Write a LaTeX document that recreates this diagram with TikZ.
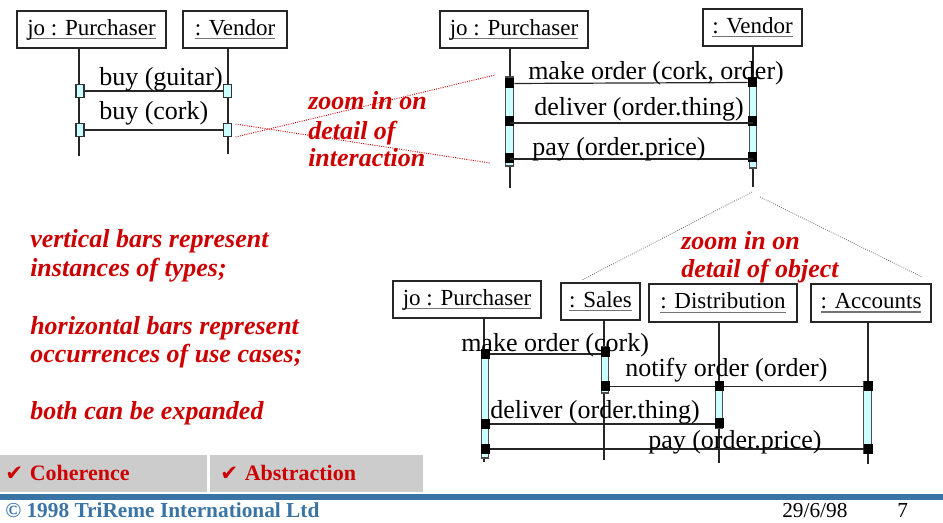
\documentclass[tikz,border=0pt]{standalone}
\usepackage{fontspec}
\setmainfont{Liberation Serif}
\newfontfamily\symfont{DejaVu Sans}
\definecolor{slidered}{RGB}{204,0,0}
\definecolor{slideblue}{RGB}{58,116,164}
\definecolor{bargray}{RGB}{204,204,204}
\definecolor{barcyan}{RGB}{204,255,255}
\newcommand\myul[1]{\setbox0\hbox{#1}\rlap{\color{black!55}\rule[-3pt]{\wd0}{0.9pt}}\box0}
\tikzset{
  objbox/.style={draw=black!85, line width=1pt, fill=white, inner sep=0pt,
    font=\fontsize{17.25}{20}\selectfont},
  lbl/.style={anchor=base west, inner sep=0pt, font=\fontsize{19.5}{22}\selectfont},
  note/.style={anchor=base west, inner sep=0pt, text=slidered,
    font=\fontsize{19.5}{22}\selectfont\bfseries\itshape},
  life/.style={line width=0.9pt, black!85},
  msg/.style={line width=0.9pt, black!85},
  act/.style={draw=black!70, fill=barcyan, line width=0.8pt, inner sep=0pt, minimum width=7.5*0.75pt},
  sq/.style={draw=black!80, fill=barcyan, line width=0.8pt, inner sep=0pt,
    minimum width=8*0.75pt, minimum height=13*0.75pt},
  blk/.style={fill=black, inner sep=0pt, minimum width=9*0.75pt, minimum height=10*0.75pt},
  zoomred/.style={densely dotted, slidered, line width=0.7pt},
  zoomgray/.style={densely dotted, black!60, line width=0.6pt},
  foot/.style={anchor=base west, inner sep=0pt, font=\fontsize{16}{18}\selectfont}
}
\begin{document}
\begin{tikzpicture}[x=0.75pt,y=-0.75pt]
\useasboundingbox (0,0) rectangle (943,523);

% ---------------- top-left diagram ----------------
\node[objbox, minimum width=149*0.75pt, minimum height=37*0.75pt] (tp1) at (91.5,29.5) {\myul{jo : Purchaser}};
\node[objbox, minimum width=104*0.75pt, minimum height=37*0.75pt] (tv1) at (235,29.5) {\myul{: Vendor}};
\coordinate (tp1a) at (79,48);  \coordinate (tp1b) at (79,156);
\coordinate (tv1a) at (228,48); \coordinate (tv1b) at (228,154);
\draw[life] (tp1a) -- (tp1b);
\draw[life] (tv1a) -- (tv1b);
\node[sq] (s1a) at (80,91) {};
\node[sq] (s1b) at (227.5,91) {};
\node[sq] (s2a) at (80,130) {};
\node[sq] (s2b) at (227.5,130) {};
\draw[msg] (s1a.east) -- (s1b.west);
\draw[msg] (s2a.east) -- (s2b.west);
\node[lbl] (m1) at (99,85.5) {buy (guitar)};
\node[lbl] (m2) at (99,120) {buy (cork)};

% zoom lines (red)
\coordinate (zr1) at (495,75);
\coordinate (zr2) at (490,163);
\draw[zoomred] ([xshift=8*0.75pt,yshift=-7*0.75pt]s2b.center) -- (zr1);
\draw[zoomred] ([xshift=8*0.75pt,yshift=6*0.75pt]s2b.center) -- (zr2);
\node[note] (z1) at (308,110) {zoom in on};
\node[note] (z2) at (308,140) {detail of};
\node[note] (z3) at (308,167) {interaction};

% ---------------- top-right diagram ----------------
\node[objbox, minimum width=148*0.75pt, minimum height=37*0.75pt] (tp2) at (514,29.5) {\myul{jo : Purchaser}};
\node[objbox, minimum width=99*0.75pt, minimum height=37*0.75pt] (tv2) at (752.5,27.5) {\myul{: Vendor}};
\coordinate (tp2a) at (510,48);  \coordinate (tp2b) at (510,188);
\coordinate (tv2a) at (753,46);  \coordinate (tv2b) at (753,187);
\draw[life] (tp2a) -- (tp2b);
\draw[life] (tv2a) -- (tv2b);
\node[act, minimum height=89*0.75pt] (bp2) at (509.5,121.5) {};
\node[act, minimum height=90*0.75pt] (bv2) at (753,123) {};
\node[blk] (k1a) at (509.5,83.5) {};
\node[blk] (k1b) at (752.5,82.5) {};
\node[blk] (k2a) at (509.5,121) {};
\node[blk] (k2b) at (752.5,121) {};
\node[blk] (k3a) at (509.5,158) {};
\node[blk] (k3b) at (752.5,157.5) {};
\draw[msg] (k1a) -- (k1b);
\draw[msg] (509.5,123) -- (752.5,123);
\draw[msg] (509.5,159) -- (752.5,159);
\node[lbl] (n1) at (528,79.5) {make order (cork, order)};
\node[lbl] (n2) at (534,116) {deliver (order.thing)};
\node[lbl] (n3) at (532,156) {pay (order.price)};

% zoom lines (gray)
\coordinate (zg0) at (752,192);
\coordinate (zg0b) at (760,197);
\coordinate (zg1) at (582,280);
\coordinate (zg2) at (922,277);
\draw[zoomgray] (zg0) -- (zg1);
\draw[zoomgray] (zg0b) -- (zg2);
\node[note] (z4) at (681,250) {zoom in on};
\node[note] (z5) at (681,278) {detail of object};

% ---------------- bottom diagram ----------------
\node[objbox, minimum width=148*0.75pt, minimum height=37*0.75pt] (bp) at (467,299.5) {\myul{jo : Purchaser}};
\node[objbox, minimum width=79*0.75pt, minimum height=37*0.75pt] (bs) at (600.5,301.5) {\myul{: Sales}};
\node[objbox, minimum width=148*0.75pt, minimum height=38*0.75pt] (bd) at (723,303) {\myul{: Distribution}};
\node[objbox, minimum width=120*0.75pt, minimum height=38*0.75pt] (ba) at (871,303) {\myul{: Accounts}};
\coordinate (bpa) at (484,318); \coordinate (bpb) at (484,462);
\coordinate (bsa) at (604,320); \coordinate (bsb) at (604,460);
\coordinate (bda) at (719,322); \coordinate (bdb) at (719,463);
\coordinate (baa) at (868,322); \coordinate (bab) at (868,464);
\draw[life] (bpa) -- (bpb);
\draw[life] (bsa) -- (bsb);
\draw[life] (bda) -- (bdb);
\draw[life] (baa) -- (bab);
\node[act, minimum height=108*0.75pt] (xbp) at (485,404) {};
\node[act, minimum height=46*0.75pt] (xbs) at (605,370) {};
\node[act, minimum height=46*0.75pt] (xbd) at (719,405) {};
\node[act, minimum height=71*0.75pt] (xba) at (867.5,417.5) {};
\draw[msg] (485,354) -- (605,354);
\draw[msg] (605,386.5) -- (868,386.5);
\draw[msg] (719,424) -- (485,424);
\draw[msg] (868,449) -- (485,449);
\node[blk] (q1) at (485,354.5) {};
\node[blk] (q2) at (605,352) {};
\node[blk] (q3) at (605,386) {};
\node[blk] (q4) at (719,386.5) {};
\node[blk] (q5) at (868,386.5) {};
\node[blk] (q6) at (485,424) {};
\node[blk] (q7) at (719,423) {};
\node[blk] (q8) at (485,449) {};
\node[blk] (q9) at (868,449.5) {};
\node[lbl] (o1) at (461,352) {make order (cork)};
\node[lbl] (o2) at (625,377) {notify order (order)};
\node[lbl] (o3) at (490,419) {deliver (order.thing)};
\node[lbl] (o4) at (648,449) {pay (order.price)};

% ---------------- left notes ----------------
\node[note] (t1) at (30,248) {vertical bars represent};
\node[note] (t2) at (30,277) {instances of types;};
\node[note] (t3) at (30,335) {horizontal bars represent};
\node[note] (t4) at (30,363) {occurrences of use cases;};
\node[note] (t5) at (30,420) {both can be expanded};

% ---------------- footer ----------------
\fill[bargray] (0,455) rectangle (207,492);
\fill[bargray] (210,455) rectangle (423,492);
\node[foot, text=slidered, font=\fontsize{16.5}{18}\selectfont\bfseries] (c1) at (5,481) {{\symfont\fontsize{16}{18}\selectfont ✔}\hspace{5pt}Coherence};
\node[foot, text=slidered, font=\fontsize{16.5}{18}\selectfont\bfseries] (c2) at (220,481) {{\symfont\fontsize{16}{18}\selectfont ✔}\hspace{5pt}Abstraction};
\fill[slideblue] (0,494) rectangle (943,500);
\node[foot, text=slideblue, font=\fontsize{16}{18}\selectfont\bfseries] (f1) at (5,518) {© 1998 TriReme International Ltd};
\node[foot] (f2) at (782,518) {29/6/98};
\node[foot] (f3) at (897,518) {7};
\end{tikzpicture}
\end{document}
